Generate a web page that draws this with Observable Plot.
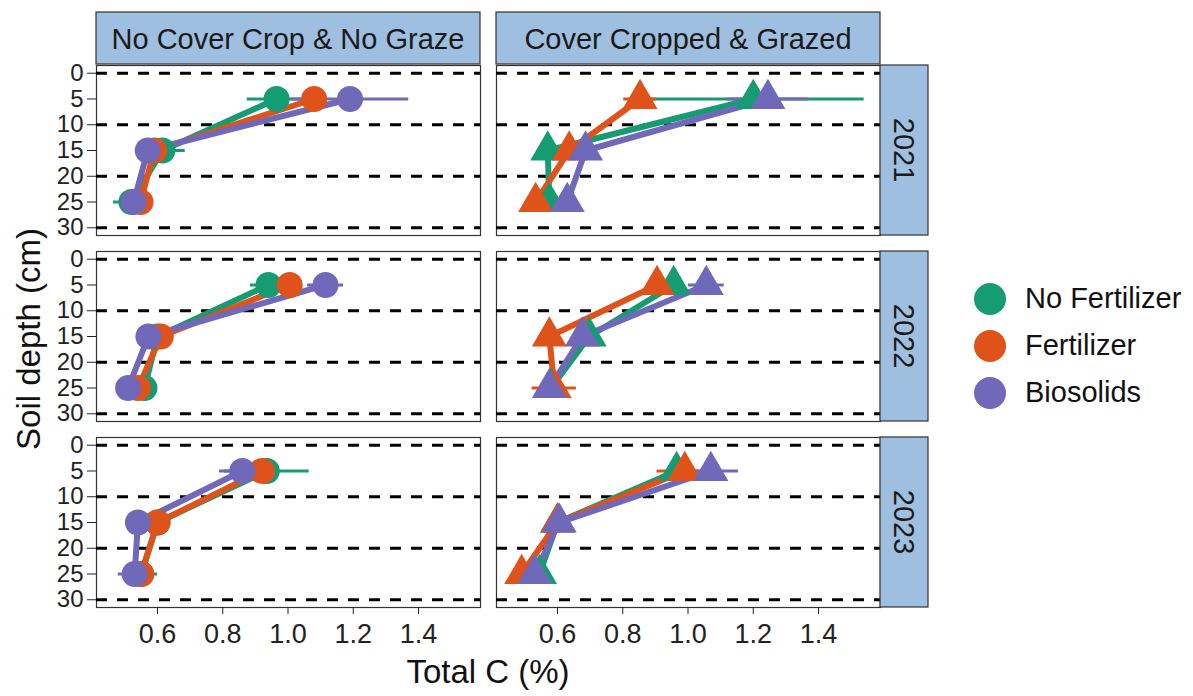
<!DOCTYPE html>
<html><head><meta charset="utf-8">
<script src="https://cdn.jsdelivr.net/npm/d3@7"></script>
<script src="https://cdn.jsdelivr.net/npm/@observablehq/plot@0.6"></script>
<style>
body{margin:0;background:#fff;font-family:"Liberation Sans",Arial,sans-serif;}
#wrap{position:relative;width:1193px;height:696px;overflow:hidden;}
#legend{position:absolute;left:972px;top:275px;}
.item{display:flex;align-items:center;height:47px;font-size:29px;color:#111;}
.item svg{margin-right:17px;}
</style></head><body>
<div id="wrap"><div id="chart"></div><div id="legend"></div></div>
<script>
// ---- data ----
const treatments = ["No Cover Crop & No Graze", "Cover Cropped & Grazed"];
const years = [2021, 2022, 2023];
const fertilizers = ["No Fertilizer", "Fertilizer", "Biosolids"];
const colors = ["#169C72", "#DF531A", "#7068B8"];
const depths = [5, 15, 25];
const xTicks = [0.6, 0.8, 1.0, 1.2, 1.4];
const yTicks = [0, 5, 10, 15, 20, 25, 30];
const gridDepths = [0, 10, 20, 30];

// mean Total C (%) per fertilizer (rows) at depths 5, 15, 25 (cols)
const ncc2021 = [[0.965, 0.615, 0.52], [1.08, 0.59, 0.548], [1.19, 0.57, 0.527]];
const ncc2021se = [[0.09, 0.07, 0.055], [0.03, 0.02, 0.02], [0.18, 0.02, 0.02]];
const cc2021 = [[1.20, 0.57, 0.575], [0.853, 0.636, 0.533], [1.245, 0.686, 0.63]];
const cc2021se = [[0.34, 0.02, 0.02], [0.05, 0.02, 0.02], [0.125, 0.02, 0.02]];
const ncc2022 = [[0.94, 0.60, 0.56], [1.005, 0.61, 0.54], [1.115, 0.572, 0.51]];
const ncc2022se = [[0.055, 0.02, 0.04], [0.03, 0.02, 0.02], [0.055, 0.02, 0.02]];
const cc2022 = [[0.956, 0.697, 0.58], [0.905, 0.575, 0.59], [1.056, 0.676, 0.575]];
const cc2022se = [[0.03, 0.02, 0.02], [0.03, 0.02, 0.068], [0.055, 0.02, 0.02]];
const ncc2023 = [[0.935, 0.60, 0.55], [0.92, 0.60, 0.55], [0.86, 0.54, 0.53]];
const ncc2023se = [[0.13, 0.02, 0.05], [0.03, 0.02, 0.02], [0.07, 0.02, 0.05]];
const cc2023 = [[0.965, 0.60, 0.545], [0.99, 0.60, 0.49], [1.07, 0.605, 0.53]];
const cc2023se = [[0.03, 0.02, 0.02], [0.085, 0.02, 0.02], [0.085, 0.02, 0.02]];

const panels = [
  [treatments[0], 2021, ncc2021, ncc2021se], [treatments[1], 2021, cc2021, cc2021se],
  [treatments[0], 2022, ncc2022, ncc2022se], [treatments[1], 2022, cc2022, cc2022se],
  [treatments[0], 2023, ncc2023, ncc2023se], [treatments[1], 2023, cc2023, cc2023se]
];
const rows = [];
for (const [treatment, year, mean, se] of panels) {
  fertilizers.forEach((fert, i) => depths.forEach((depth, j) => {
    rows.push({treatment, year, fert, depth, mean: mean[i][j], se: se[i][j]});
  }));
}

const font = "Liberation Sans, Arial, sans-serif";
const plot = Plot.plot({
  width: 940, height: 696,
  marginTop: 64, marginBottom: 89, marginLeft: 96, marginRight: 60,
  style: {fontFamily: font, background: "white", color: "#222"},
  x: {domain: [0.413, 1.59]},
  y: {domain: [-1.5, 31.5], reverse: true},
  fx: {domain: treatments, paddingInner: 0.04, paddingOuter: 0, axis: null},
  fy: {domain: years, paddingInner: 0.0885, paddingOuter: 0, axis: null},
  color: {domain: fertilizers, range: colors},
  symbol: {domain: treatments, range: ["circle", "triangle"]},
  marks: [
    Plot.frame({stroke: "#333", strokeWidth: 1.2}),
    Plot.ruleY(gridDepths, {stroke: "black", strokeWidth: 3, strokeDasharray: "11,10"}),
    Plot.line(rows, {fx: "treatment", fy: "year", x: "mean", y: "depth", stroke: "fert", z: "fert", strokeWidth: 6}),
    Plot.ruleY(rows, {fx: "treatment", fy: "year", y: "depth", x1: d => d.mean - d.se, x2: d => d.mean + d.se, stroke: "fert", strokeWidth: 3}),
    Plot.dot(rows, {fx: "treatment", fy: "year", x: "mean", y: "depth", fill: "fert", symbol: "treatment", r: 13}),
    Plot.axisX({ticks: xTicks, tickFormat: d3.format(".1f"), tickSize: 7, tickPadding: 9, fontSize: 27, label: null, color: "#222"}),
    Plot.axisY({ticks: yTicks, tickSize: 9, tickPadding: 4, fontSize: 24, label: null, color: "#222"})
  ]
});
document.getElementById("chart").appendChild(plot);

// ---- facet strips and axis titles ----
const svg = d3.select(plot);
const fxs = plot.scale("fx"), fys = plot.scale("fy");
const stripFill = "#9fbfe0";
const xRight = fxs.apply(treatments[1]) + fxs.bandwidth;
treatments.forEach(t => {
  const x0 = fxs.apply(t), w = fxs.bandwidth;
  svg.append("rect").attr("x", x0).attr("y", 12).attr("width", w).attr("height", 52)
    .attr("fill", stripFill).attr("stroke", "#333").attr("stroke-width", 1.2);
  svg.append("text").attr("x", x0 + w / 2).attr("y", 39).attr("text-anchor", "middle")
    .attr("dominant-baseline", "central").attr("font-size", 29).attr("font-family", font)
    .attr("fill", "#1a1a1a").text(t);
});
years.forEach(y => {
  const y0 = fys.apply(y), h = fys.bandwidth;
  svg.append("rect").attr("x", xRight).attr("y", y0).attr("width", 48).attr("height", h)
    .attr("fill", stripFill).attr("stroke", "#333").attr("stroke-width", 1.2);
  svg.append("text").attr("transform", `translate(${xRight + 24},${y0 + h / 2}) rotate(90)`)
    .attr("text-anchor", "middle").attr("dominant-baseline", "central").attr("font-size", 29)
    .attr("font-family", font).attr("fill", "#1a1a1a").text(y);
});
const xMid = (fxs.apply(treatments[0]) + xRight) / 2;
svg.append("text").attr("x", xMid).attr("y", 683).attr("text-anchor", "middle")
  .attr("font-size", 33).attr("font-family", font).attr("fill", "#111").text("Total C (%)");
const yMid = (fys.apply(years[0]) + fys.apply(years[2]) + fys.bandwidth) / 2;
svg.append("text").attr("transform", `translate(40,${yMid + 3}) rotate(-90)`).attr("text-anchor", "middle")
  .attr("font-size", 33).attr("font-family", font).attr("fill", "#111").text("Soil depth (cm)");

// ---- legend ----
const legend = d3.select("#legend");
fertilizers.forEach((f, i) => {
  const item = legend.append("div").attr("class", "item");
  const s = item.append("svg").attr("width", 36).attr("height", 36);
  s.append("circle").attr("cx", 18).attr("cy", 18).attr("r", 16).attr("fill", colors[i]);
  item.append("span").text(f);
});
</script>
</body></html>
